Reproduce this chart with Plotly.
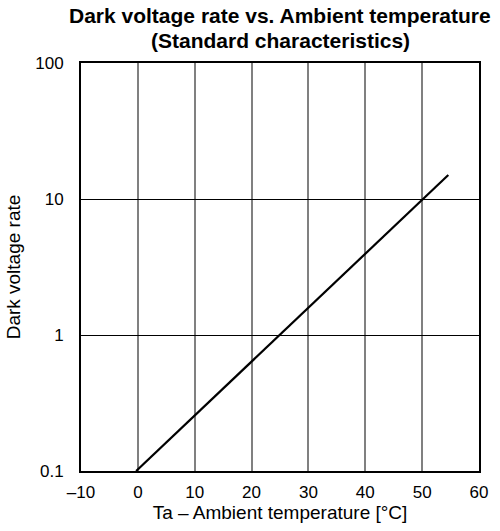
import plotly.graph_objects as go

temp_c = [-0.3, 54.6]
dark_rate = [0.1, 15.0]

x_tickvals = [-10, 0, 10, 20, 30, 40, 50, 60]
x_ticktext = ["\u201310", "0", "10", "20", "30", "40", "50", "60"]
y_tickvals = [0.1, 1, 10, 100]
y_ticktext = ["0.1", "1", "10", "100"]

font = "Liberation Sans, Arial, sans-serif"

fig = go.Figure()
fig.add_trace(go.Scatter(x=temp_c, y=dark_rate, mode="lines",
                         line=dict(color="black", width=2.2), showlegend=False))

fig.update_layout(
    width=500, height=531,
    margin=dict(l=81, r=15, t=63, b=60),
    paper_bgcolor="white", plot_bgcolor="white",
    font=dict(family=font, size=17, color="black"),
)
fig.add_annotation(text="<b>Dark voltage rate vs. Ambient temperature</b>",
                   xref="paper", yref="paper", x=0.5, y=1, yanchor="middle",
                   yshift=48, showarrow=False,
                   font=dict(family=font, size=21, color="black"))
fig.add_annotation(text="<b>(Standard characteristics)</b>",
                   xref="paper", yref="paper", x=0.5, y=1, yanchor="middle",
                   yshift=23, showarrow=False,
                   font=dict(family=font, size=21, color="black"))
fig.update_xaxes(
    range=[-10, 60], tickvals=x_tickvals, ticktext=x_ticktext,
    showgrid=True, gridcolor="#808080", gridwidth=1.5,
    showline=True, linecolor="black", linewidth=2, mirror=True,
    ticks="", ticklabelstandoff=5, zeroline=False,
    title=dict(text="Ta \u2013 Ambient temperature [\u00b0C]", standoff=1,
               font=dict(size=19)),
)
fig.update_yaxes(
    type="log", range=[-1, 2], tickvals=y_tickvals, ticktext=y_ticktext,
    showgrid=True, gridcolor="black", gridwidth=1,
    showline=True, linecolor="black", linewidth=2, mirror=True,
    ticks="", ticklabelstandoff=12, zeroline=False,
    title=dict(text="Dark voltage rate", standoff=10, font=dict(size=19)),
)

fig.write_html("out.html")
